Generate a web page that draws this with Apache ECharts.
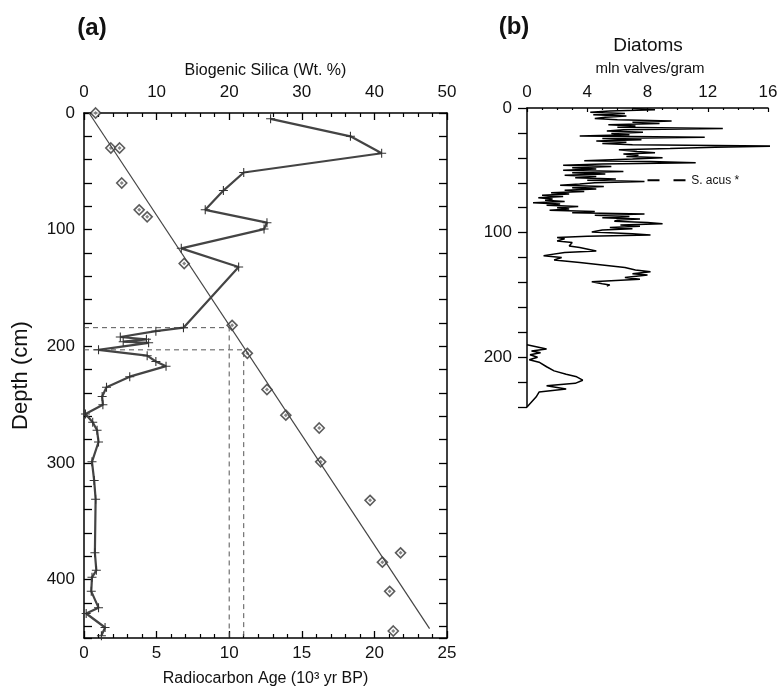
<!DOCTYPE html>
<html>
<head>
<meta charset="utf-8">
<script src="https://cdn.jsdelivr.net/npm/echarts@6/dist/echarts.min.js"></script>
<style>
  html, body { margin: 0; padding: 0; background: #fff; }
  #chart { width: 778px; height: 690px; }
</style>
</head>
<body>
<div id="chart"></div>
<script>
// (a) biogenic silica, wt %, against depth in cm
const silicaPct = [25.7, 36.7, 41.0, 22.0, 19.2, 16.7, 25.2, 24.8, 13.4, 21.3,
  13.7, 9.9, 5.0, 8.6, 5.4, 8.9, 2.0, 8.7, 9.9, 11.3,
  6.3, 3.1, 2.5, 2.6, 0.2, 1.2, 1.8, 2.0, 1.1, 1.4,
  1.6, 1.5, 1.7, 1.1, 1.0, 2.0, 0.3, 2.9, 2.4]
const silicaDepth = [5, 20, 34.5, 51, 66.5, 83, 94, 99.5, 116, 132,
  184, 187, 192, 194, 196, 197, 203, 208, 213, 217,
  226, 235, 243, 250, 258, 265, 272, 282, 299, 315,
  331, 377, 392, 398, 410, 424, 429, 441, 448]

// (a) radiocarbon ages, 10^3 yr BP
const ageKyr = [0.8, 1.85, 2.45, 2.6, 3.8, 4.35, 6.9, 10.2, 11.25, 12.6, 13.9, 16.2, 16.3, 19.7, 21.8, 20.55, 21.05, 21.3]
const ageDepth = [0, 30, 30, 60, 83, 89, 129, 182, 206, 237, 259, 270, 299, 332, 377, 385, 410, 444]

// age-depth fit line end points
const fitAge = [0.35, 23.8]
const fitDepth = [0, 442]

// dated horizons picked off the fit (dashed guides)
const pickAge = [10, 11]
const pickDepth = [184, 203]

// (b) diatoms, mln valves/gram - upper section
const diatomDepthA = [0.5, 1.5, 2.5, 3.5, 4.5, 5.5, 6.5, 7.5, 8.5, 9.5,
  10.5, 11.5, 12.5, 13.5, 14.5, 15.5, 16.5, 17.5, 18.5, 19.5,
  20.5, 21.5, 22.5, 23.5, 24.5, 25.5, 26.5, 27.5, 28.5, 29.5,
  30.5, 31.5, 32.5, 33.5, 35, 36, 37, 38, 39, 40,
  41, 42.3, 43, 43.9, 45, 46, 47, 48, 49, 50,
  51, 52, 53, 54, 55, 56, 57, 58, 59, 60,
  61, 62, 63, 64, 65, 66, 67, 68, 69, 70,
  71, 72, 73, 74, 75, 76, 77, 78, 79, 80,
  81, 82, 83, 84, 85, 86, 87, 88, 89, 90,
  91, 92, 93, 94, 95, 96, 97, 98, 99.6, 101,
  102, 103, 104, 105, 106.8, 108, 110.8, 112, 114.8, 116,
  118.5, 120, 122, 124, 126, 128, 130, 131.5, 133, 134,
  136, 137.5, 139.5, 141, 142, 143]
const diatomA = [7.0, 8.5, 5.5, 4.2, 6.5, 4.4, 6.6, 5.2, 4.5, 6.0,
  9.6, 7.0, 8.8, 5.4, 7.2, 6.0, 13.0, 6.4, 5.3, 7.7,
  5.6, 6.8, 3.5, 11.8, 5.0, 7.6, 4.6, 6.6, 5.0, 7.0,
  16.7, 12.5, 9.5, 6.1, 7.3, 8.5, 6.4, 7.4, 6.6, 9.0,
  7.0, 3.8, 8.2, 11.2, 5.0, 2.4, 5.6, 3.0, 4.6, 2.4,
  6.4, 3.0, 5.2, 2.5, 4.6, 3.2, 5.9, 4.0, 7.8, 4.5,
  3.5, 2.2, 5.1, 3.0, 4.6, 2.5, 3.8, 1.6, 2.8, 1.0,
  2.4, 0.75, 1.7, 1.2, 2.5, 0.4, 2.2, 1.3, 3.4, 2.0,
  2.8, 1.5, 4.5, 3.0, 7.8, 4.5, 6.8, 5.0, 7.5, 6.0,
  5.8, 8.0, 9.0, 6.2, 7.5, 5.5, 7.0, 5.0, 4.3, 7.0,
  8.2, 4.0, 2.0, 2.5, 2.0, 3.0, 2.8, 3.5, 4.6, 2.5,
  1.1, 2.3, 1.8, 3.5, 5.0, 6.5, 7.2, 8.2, 7.0, 8.0,
  6.5, 7.5, 4.3, 5.0, 5.5, 5.3]

// (b) diatoms - lower section
const diatomDepthB = [190, 193.5, 195, 196.5, 198, 200, 202, 204, 207.7, 211, 213.7, 215.8, 218.5, 221, 223, 225.5, 228, 232, 236, 240]
const diatomB = [0, 1.3, 0.3, 0.9, 0.2, 0.7, 0.15, 0.8, 1.3, 1.8, 2.6, 3.3, 3.7, 3.2, 1.3, 2.6, 0.8, 0.6, 0.3, 0]

// S. acus marker
const acusValue = [8.0, 10.7]
const acusDepth = 58

const FONT = 'Liberation Sans, Arial, Helvetica, sans-serif'

function zip(xs, ys) {
  return xs.map((x, i) => [x, ys[i]])
}

function hundreds(v) {
  return v % 100 === 0 ? String(v) : ''
}

const axisLine = { show: true, onZero: false, lineStyle: { color: '#000', width: 1.5 } }
const labelStyle = { color: '#111', fontSize: 17, fontFamily: FONT }

const chart = echarts.init(document.getElementById('chart'), null, { renderer: 'canvas' })

const option = {
  backgroundColor: '#fff',
  animation: false,
  textStyle: { fontFamily: FONT },
  grid: [
    { left: 84, top: 113, width: 363, height: 525, outerBoundsMode: 'none' },
    { left: 527, top: 108, width: 241, height: 299, outerBoundsMode: 'none' }
  ],
  xAxis: [
    {
      gridIndex: 0, type: 'value', position: 'top', min: 0, max: 50, interval: 10,
      name: 'Biogenic Silica (Wt. %)', nameLocation: 'middle', nameGap: 34,
      nameTextStyle: { fontSize: 16, color: '#111', fontFamily: FONT },
      axisLine: axisLine,
      axisTick: { show: true, inside: true, length: 7, lineStyle: { color: '#000', width: 1.3 } },
      minorTick: { show: true, splitNumber: 5, length: 4, lineStyle: { color: '#000', width: 1.2 } },
      axisLabel: Object.assign({ margin: 12 }, labelStyle),
      splitLine: { show: false }
    },
    {
      gridIndex: 0, type: 'value', position: 'bottom', min: 0, max: 25, interval: 5,
      name: 'Radiocarbon Age (10³ yr BP)', nameLocation: 'middle', nameGap: 33,
      nameTextStyle: { fontSize: 16, color: '#111', fontFamily: FONT, verticalAlign: 'top' },
      axisLine: axisLine,
      axisTick: { show: true, inside: true, length: 7, lineStyle: { color: '#000', width: 1.3 } },
      minorTick: { show: true, splitNumber: 5, length: 4, lineStyle: { color: '#000', width: 1.2 } },
      axisLabel: Object.assign({ margin: 7 }, labelStyle),
      splitLine: { show: false }
    },
    {
      gridIndex: 1, type: 'value', position: 'top', min: 0, max: 16, interval: 4,
      axisLine: axisLine,
      axisTick: { show: true, inside: true, length: 4, lineStyle: { color: '#000', width: 1.2 } },
      minorTick: { show: true, splitNumber: 4, length: 2, lineStyle: { color: '#000', width: 1.2 } },
      axisLabel: Object.assign({ margin: 7 }, labelStyle),
      splitLine: { show: false }
    }
  ],
  yAxis: [
    {
      gridIndex: 0, type: 'value', position: 'left', inverse: true, min: 0, max: 450, interval: 20,
      name: 'Depth (cm)', nameLocation: 'middle', nameGap: 52, nameRotate: 90,
      nameTextStyle: { fontSize: 22, color: '#111', fontFamily: FONT },
      axisLine: axisLine,
      axisTick: { show: true, inside: true, length: 8, lineStyle: { color: '#000', width: 1.3 } },
      axisLabel: Object.assign({ margin: 9, formatter: hundreds }, labelStyle),
      splitLine: { show: false }
    },
    {
      gridIndex: 0, type: 'value', position: 'right', inverse: true, min: 0, max: 450, interval: 20,
      axisLine: axisLine,
      axisTick: { show: true, inside: true, length: 8, lineStyle: { color: '#000', width: 1.3 } },
      axisLabel: { show: false },
      splitLine: { show: false }
    },
    {
      gridIndex: 1, type: 'value', position: 'left', inverse: true, min: 0, max: 240, interval: 20,
      axisLine: axisLine,
      axisTick: { show: true, inside: false, length: 9, lineStyle: { color: '#000', width: 1.3 } },
      axisLabel: Object.assign({ margin: 15, formatter: hundreds }, labelStyle),
      splitLine: { show: false }
    }
  ],
  graphic: [
    { type: 'text', x: 92, y: 28, style: { text: '(a)', font: 'bold 24px ' + FONT, fill: '#111', align: 'center', verticalAlign: 'middle' } },
    { type: 'text', x: 514, y: 27, style: { text: '(b)', font: 'bold 24px ' + FONT, fill: '#111', align: 'center', verticalAlign: 'middle' } },
    { type: 'text', x: 648, y: 46, style: { text: 'Diatoms', font: '19px ' + FONT, fill: '#111', align: 'center', verticalAlign: 'middle' } },
    { type: 'text', x: 650, y: 69, style: { text: 'mln valves/gram', font: '15px ' + FONT, fill: '#111', align: 'center', verticalAlign: 'middle' } }
  ],
  series: [
    {
      name: 'guides', type: 'line', xAxisIndex: 1, yAxisIndex: 0,
      data: [[0, pickDepth[0]], [pickAge[0], pickDepth[0]], [pickAge[0], 450]],
      showSymbol: false, silent: true,
      lineStyle: { color: '#555', width: 1, type: [5, 4] }
    },
    {
      name: 'guides2', type: 'line', xAxisIndex: 1, yAxisIndex: 0,
      data: [[0, pickDepth[1]], [pickAge[1], pickDepth[1]], [pickAge[1], 450]],
      showSymbol: false, silent: true,
      lineStyle: { color: '#555', width: 1, type: [5, 4] }
    },
    {
      name: 'fit', type: 'line', xAxisIndex: 1, yAxisIndex: 0,
      data: zip(fitAge, fitDepth),
      showSymbol: false,
      lineStyle: { color: '#444', width: 1.2 }
    },
    {
      name: 'silica', type: 'line', xAxisIndex: 0, yAxisIndex: 0,
      data: zip(silicaPct, silicaDepth),
      showAllSymbol: true,
      symbol: 'path://M4.4,0H5.6V4.4H10V5.6H5.6V10H4.4V5.6H0V4.4H4.4Z',
      symbolSize: 9,
      itemStyle: { color: '#333' },
      lineStyle: { color: '#444', width: 2.2 }
    },
    {
      name: 'age', type: 'scatter', xAxisIndex: 1, yAxisIndex: 0,
      data: zip(ageKyr, ageDepth),
      symbol: 'diamond', symbolSize: 10,
      itemStyle: { color: '#fff', borderColor: '#333', borderWidth: 1.6 }
    },
    {
      name: 'ageDot', type: 'scatter', xAxisIndex: 1, yAxisIndex: 0,
      data: zip(ageKyr, ageDepth),
      symbol: 'diamond', symbolSize: 4, silent: true,
      itemStyle: { color: '#666' }
    },
    {
      name: 'diatomsUpper', type: 'line', xAxisIndex: 2, yAxisIndex: 2,
      data: zip(diatomA, diatomDepthA),
      showSymbol: false,
      lineStyle: { color: '#000', width: 1.5 }
    },
    {
      name: 'diatomsLower', type: 'line', xAxisIndex: 2, yAxisIndex: 2,
      data: zip(diatomB, diatomDepthB),
      showSymbol: false,
      lineStyle: { color: '#000', width: 1.5 }
    },
    {
      name: 'acus', type: 'line', xAxisIndex: 2, yAxisIndex: 2,
      data: [[acusValue[0], acusDepth], [acusValue[1], acusDepth]],
      showSymbol: false,
      lineStyle: { color: '#000', width: 2, type: [12, 14] },
      endLabel: { show: true, formatter: 'S. acus *', fontSize: 12, color: '#111', distance: 3, fontFamily: FONT }
    }
  ]
}

chart.setOption(option)
</script>
</body>
</html>
